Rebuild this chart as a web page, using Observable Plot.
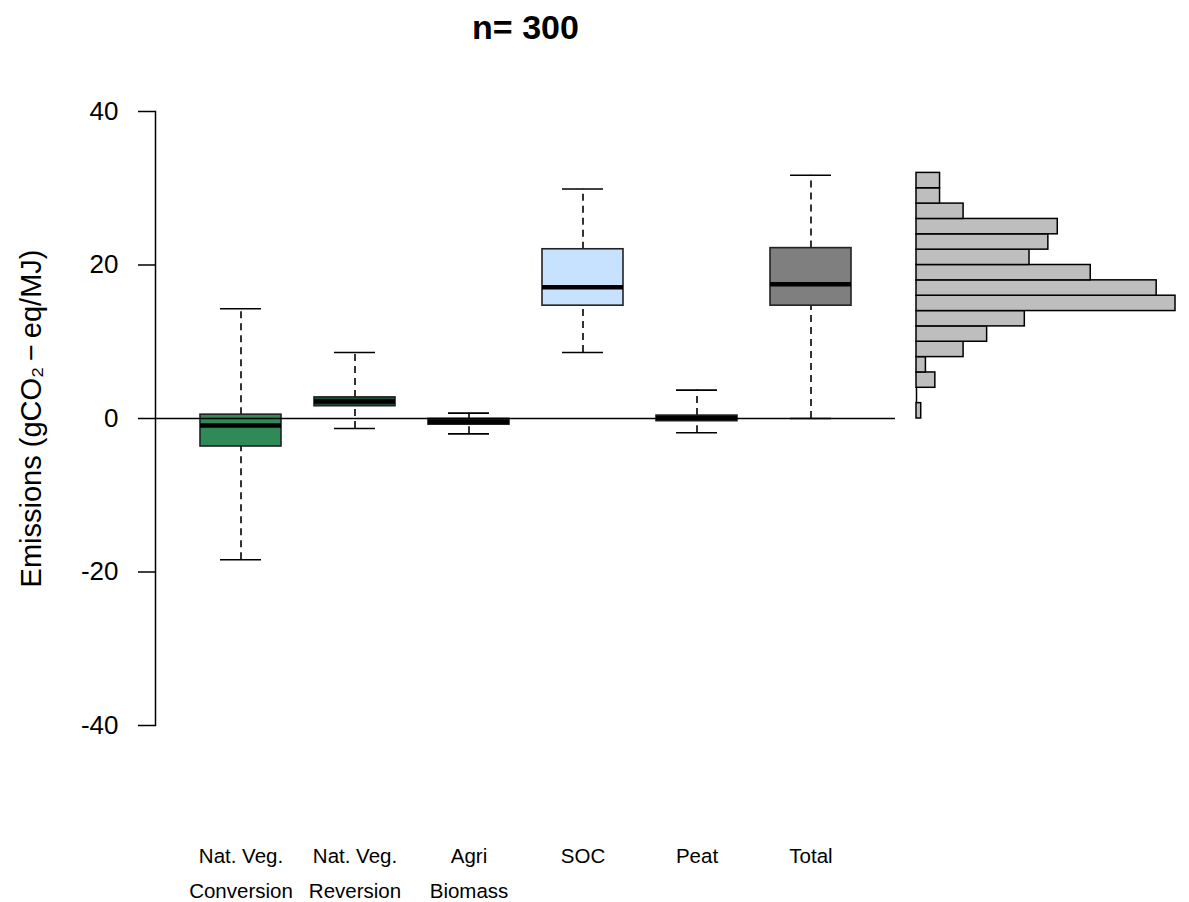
<!DOCTYPE html>
<html><head><meta charset="utf-8">
<script src="https://cdn.jsdelivr.net/npm/d3@7"></script>
<script src="https://cdn.jsdelivr.net/npm/@observablehq/plot@0.6"></script>
<style>
body{margin:0;background:#fff;}
#wrap{position:relative;width:1189px;height:902px;overflow:hidden;background:#fff;}
#wrap svg{position:absolute;top:0;}
</style></head><body><div id="wrap"></div>
<script>
const titleText = "n= 300";
const yLabel = "Emissions (gCO\u2082\u2009\u2212\u2009eq/MJ)";
const categories = ["Nat. Veg.\nConversion", "Nat. Veg.\nReversion", "Agri\nBiomass", "SOC", "Peat", "Total"];
const whiskerLow  = [-18.4, -1.3, -2.0,  8.6, -1.85,  0.0];
const q1          = [-3.65,  1.6, -0.8, 14.7, -0.35, 14.7];
const medians     = [-0.9,   2.2, -0.45, 17.1, 0.05, 17.5];
const q3          = [ 0.5,   2.75, -0.05, 22.05, 0.38, 22.2];
const whiskerHigh = [14.3,   8.6,  0.7, 29.9,  3.7, 31.7];
const boxFills = ["#2e8b57", "#1e4d36", "#2b2b2b", "#c6e2ff", "#2b2b2b", "#7f7f7f"];
const yTicks = [-40, -20, 0, 20, 40];
const binLow  = [0, 2, 4, 6, 8, 10, 12, 14, 16, 18, 20, 22, 24, 26, 28, 30];
const binHigh = [2, 4, 6, 8, 10, 12, 14, 16, 18, 20, 22, 24, 26, 28, 30, 32];
const binCounts = [1, 0, 4, 2, 10, 15, 23, 55, 51, 37, 24, 28, 30, 10, 5, 5];

const font = "'Liberation Sans', Arial, Helvetica, sans-serif";
const rows = categories.map((c, i) => ({cat: c, lo: whiskerLow[i], q1: q1[i], med: medians[i], q3: q3[i], hi: whiskerHigh[i], fill: boxFills[i]}));
const bins = binCounts.map((n, i) => ({lo: binLow[i], hi: binHigh[i], count: n}));

const H = 902, MT = 111, MB = 177;

const main = Plot.plot({
  width: 900, height: H,
  marginTop: MT, marginBottom: MB, marginLeft: 155, marginRight: 5,
  style: {fontFamily: font, background: "transparent", overflow: "visible", color: "black"},
  x: {type: "band", domain: categories, paddingInner: 0.292, paddingOuter: 0.38, axis: null},
  y: {domain: [yTicks[0], yTicks[yTicks.length - 1]]},
  color: {type: "identity"},
  marks: [
    Plot.ruleX(rows, {x: "cat", y1: "q3", y2: "hi", strokeDasharray: "7,5", strokeWidth: 1.6, stroke: "black"}),
    Plot.ruleX(rows, {x: "cat", y1: "lo", y2: "q1", strokeDasharray: "7,5", strokeWidth: 1.6, stroke: "black"}),
    Plot.tickY(rows, {x: "cat", y: "hi", insetLeft: 20, insetRight: 20, strokeWidth: 1.6, stroke: "black"}),
    Plot.tickY(rows, {x: "cat", y: "lo", insetLeft: 20, insetRight: 20, strokeWidth: 1.6, stroke: "black"}),
    Plot.barY(rows, {x: "cat", y1: "q1", y2: "q3", fill: "fill", stroke: "#222", strokeWidth: 1.6}),
    Plot.tickY(rows, {x: "cat", y: "med", strokeWidth: 4.5, stroke: "black"}),
    Plot.ruleY([0], {stroke: "black", strokeWidth: 1.5}),
    Plot.frame({anchor: "left", stroke: "black", strokeWidth: 1.5}),
    Plot.axisY({ticks: yTicks, tickSize: 17, tickPadding: 20, tickFormat: d => String(d), fontSize: 26, label: null, strokeWidth: 1.5}),
    Plot.text([yLabel], {frameAnchor: "left", textAnchor: "middle", rotate: -90, dx: -124, fontSize: 29, fill: "black"}),
    Plot.text(rows, {x: "cat", text: "cat", frameAnchor: "bottom", lineAnchor: "top", lineHeight: 1.7, dy: 113, fontSize: 20.5, fill: "black"}),
    Plot.text([titleText], {frameAnchor: "top", lineAnchor: "bottom", dy: -73, fontSize: 34, fontWeight: "bold", fill: "black"})
  ]
});
main.style.left = "0px";

const hist = Plot.plot({
  width: 289, height: H,
  marginTop: MT, marginBottom: MB, marginLeft: 16, marginRight: 14,
  style: {fontFamily: font, background: "transparent", overflow: "visible"},
  x: {domain: [0, 55], axis: null},
  y: {domain: [yTicks[0], yTicks[yTicks.length - 1]], axis: null},
  marks: [
    Plot.rectX(bins, {x1: () => 0, x2: "count", y1: "lo", y2: "hi", fill: "#bebebe", stroke: "black", strokeWidth: 1.5}),
    Plot.ruleX(bins.filter(d => d.count === 0), {x: "count", y1: "lo", y2: "hi", stroke: "black", strokeWidth: 1.5})
  ]
});
hist.style.left = "900px";

const wrap = document.getElementById("wrap");
wrap.appendChild(main);
wrap.appendChild(hist);
</script></body></html>
